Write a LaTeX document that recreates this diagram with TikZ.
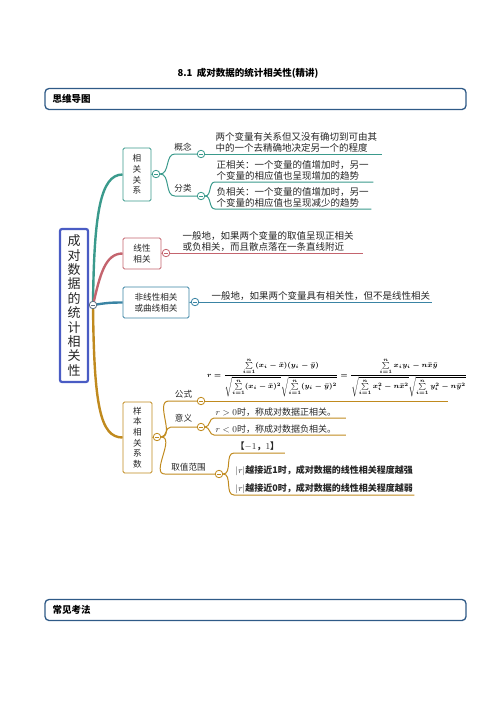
\documentclass[tikz,border=0pt]{standalone}
\usepackage{fontspec}
\usepackage{amsmath}
\setmainfont{Noto Sans CJK SC}
\usetikzlibrary{positioning,backgrounds}

\definecolor{rootblue}{HTML}{4A5CC4}
\definecolor{hdrblue}{HTML}{2F5A87}
\definecolor{hubgray}{HTML}{5F6F80}
\definecolor{tealc}{HTML}{3A9A8C}
\definecolor{rosec}{HTML}{C4646E}
\definecolor{steelc}{HTML}{3A84A4}
\definecolor{goldc}{HTML}{C08A1E}
\definecolor{inkc}{HTML}{262626}

\newsavebox{\fmlbox}

\tikzset{
  hdrbox/.style={draw=hdrblue, line width=1.3pt, rounded corners=4pt,
    minimum width=421pt, minimum height=21pt, inner sep=0pt},
  hdrtext/.style={anchor=west, inner sep=0pt, font=\fontsize{9.5}{11}\selectfont\bfseries},
  rootbox/.style={draw=rootblue, line width=2.2pt, rounded corners=2pt, fill=white,
    align=center, inner sep=0pt, minimum width=28pt, minimum height=153pt,
    text=inkc, font=\fontsize{13}{14.4}\selectfont},
  catbox/.style={draw=#1, line width=0.9pt, rounded corners=1.5pt, fill=white,
    align=center, inner sep=0pt, text=inkc, font=\fontsize{8.6}{10.6}\selectfont},
  knob/.style={circle, draw=#1, fill=white, line width=0.8pt, minimum size=7.5pt,
    inner sep=0pt, path picture={\draw[#1, line width=0.7pt]
      ([xshift=-2pt]path picture bounding box.center) --
      ([xshift=2pt]path picture bounding box.center);}},
  trunk/.style={draw=#1, line width=2.4pt},
  twig/.style={draw=#1, line width=1pt},
  tag/.style={inner sep=0pt, text=inkc, font=\fontsize{8.6}{10}\selectfont},
  leaf/.style={anchor=south west, align=left, inner sep=1.5pt, text=inkc,
    font=\fontsize{9.5}{11}\selectfont},
}

\begin{document}
\sbox{\fmlbox}{\fontsize{6.6}{8}\selectfont\boldmath
  $\displaystyle r=\frac{\sum\limits_{i=1}^{n}(x_i-\bar{x})(y_i-\bar{y})}
  {\sqrt{\sum\limits_{i=1}^{n}(x_i-\bar{x})^2}\sqrt{\sum\limits_{i=1}^{n}(y_i-\bar{y})^2}}
  =\frac{\sum\limits_{i=1}^{n}x_iy_i-n\bar{x}\bar{y}}
  {\sqrt{\sum\limits_{i=1}^{n}x_i^2-n\bar{x}^2}\sqrt{\sum\limits_{i=1}^{n}y_i^2-n\bar{y}^2}}$}%
\begin{tikzpicture}[x=1pt, y=-1pt]
\useasboundingbox (0,0) rectangle (496,702);

% title and headers
\node[font=\fontsize{9.5}{11}\selectfont\bfseries] (title) at (248,73) {8.1\ \ 成对数据的统计相关性(精讲)};
\node[hdrbox] (mapbox) at (255.5,99) {};
\node[hdrtext] (maptext) at ([xshift=8pt]mapbox.west) {思维导图};
\node[hdrbox] (exambox) at (255.5,610) {};
\node[hdrtext] (examtext) at ([xshift=8pt]exambox.west) {常见考法};

% root and main branches
\node[rootbox] (root) at (74,305.5) {成\\对\\数\\据\\的\\统\\计\\相\\关\\性};
\node[knob=hubgray] (hub) at (93,305) {};

\node[catbox=tealc, minimum width=28pt, minimum height=53pt] (corr) at (137,174.5) {相\\关\\关\\系};
\node[catbox=rosec, minimum width=38pt, minimum height=31pt, font=\fontsize{8.6}{11}\selectfont] (linear) at (142,253.5) {线性\\相关};
\node[catbox=steelc, minimum width=66pt, minimum height=31pt, font=\fontsize{8.6}{11}\selectfont] (nonlin) at (156,302.5) {非线性相关\\或曲线相关};
\node[catbox=goldc, minimum width=29pt, minimum height=71pt] (sample) at (137.5,437.5) {样\\本\\相\\关\\系\\数};

\node[knob=tealc] (corrk) at (156,174) {};
\node[knob=rosec] (lineark) at (166,253) {};
\node[knob=steelc] (nonlink) at (195,302) {};
\node[knob=goldc] (samplek) at (157,437) {};

% correlation
\node[knob=tealc] (conk) at (201,154) {};
\node[knob=tealc] (clsk) at (201,196) {};
\node[tag] (conl) at (183,147) {概念};
\node[tag] (clsl) at (183,188) {分类};
\node[leaf] (conleaf) at (214,154) {两个变量有关系但又没有确切到可由其\\中的一个去精确地决定另一个的程度};
\node[leaf] (posleaf) at (215,182) {正相关：一个变量的值增加时，另一\\个变量的相应值也呈现增加的趋势};
\node[leaf] (negleaf) at (215,209) {负相关：一个变量的值增加时，另一\\个变量的相应值也呈现减少的趋势};

% linear / nonlinear
\node[leaf] (linleaf) at (181,253) {一般地，如果两个变量的取值呈现正相关\\或负相关，而且散点落在一条直线附近};
\node[leaf] (nonleaf) at (210,302) {一般地，如果两个变量具有相关性，但不是线性相关};

% sample coefficient
\node[knob=goldc] (fmlk) at (201,401) {};
\node[knob=goldc] (mnk) at (201,427) {};
\node[knob=goldc] (rngk) at (219,474) {};
\node[tag] (fmll) at (183.5,394) {公式};
\node[tag] (mnl) at (183.5,418) {意义};
\node[tag] (rngl) at (188.5,467) {取值范围};
\node[anchor=south, inner sep=1pt] (fml) at (337,398) {\usebox{\fmlbox}};
\coordinate (fmlend) at (448,401);
\node[leaf, font=\fontsize{9}{11}\selectfont] (posr) at (214,418) {$r>0$时，称成对数据正相关。};
\node[leaf, font=\fontsize{9}{11}\selectfont] (negr) at (214,435) {$r<0$时，称成对数据负相关。};
\node[leaf, font=\fontsize{9}{11}\selectfont\bfseries] (rng) at (234,453) {【$-1$，$1$】};
\node[leaf, font=\fontsize{9}{18}\selectfont\bfseries] (strength) at (234,495) {$\vert r\vert$越接近1时，成对数据的线性相关程度越强\\$\vert r\vert$越接近0时，成对数据的线性相关程度越弱};

\begin{scope}[on background layer]
\draw[trunk=tealc] (hub.center) .. controls (94,215) and (100,174.5) .. (corr.west);
\draw[trunk=rosec] (hub.center) .. controls (100,275) and (105,253.5) .. (linear.west);
\draw[trunk=steelc] (hub.center) .. controls (106,303) and (110,302.5) .. (nonlin.west);
\draw[trunk=goldc] (hub.center) .. controls (94,405) and (100,437.5) .. (sample.west);

\draw[twig=tealc] (corr.east) -- (corrk);
\draw[twig=rosec] (linear.east) -- (lineark);
\draw[twig=steelc] (nonlin.east) -- (nonlink);
\draw[twig=goldc] (sample.east) -- (samplek);

\draw[twig=tealc] (corrk.east) to[out=0,in=180] ([xshift=-22pt]conk.west) -- (conk.west);
\draw[twig=tealc] (corrk.east) to[out=0,in=180] ([xshift=-22pt]clsk.west) -- (clsk.west);
\draw[twig=tealc] (conk.east) -- ([xshift=3pt]conleaf.south east);
\draw[twig=tealc] (clsk.east) to[out=0,in=180] (posleaf.south west) -- ([xshift=3pt]posleaf.south east);
\draw[twig=tealc] (clsk.east) to[out=0,in=180] (negleaf.south west) -- ([xshift=1pt]negleaf.south east);

\draw[twig=rosec] (lineark.east) -- ([xshift=8pt]linleaf.south east);
\draw[twig=steelc] (nonlink.east) -- (nonleaf.south east);

\draw[twig=goldc] (samplek.east) to[out=0,in=180] ([xshift=-28pt]fmlk.west) -- (fmlk.west);
\draw[twig=goldc] (samplek.east) to[out=0,in=180] ([xshift=-26pt]mnk.west) -- (mnk.west);
\draw[twig=goldc] (samplek.east) to[out=0,in=180] ([xshift=-50pt]rngk.west) -- (rngk.west);
\draw[twig=goldc] (fmlk.east) -- (fmlend);
\draw[twig=goldc] (mnk.east) to[out=0,in=180] (posr.south west) -- ([xshift=8pt]posr.south east);
\draw[twig=goldc] (mnk.east) to[out=0,in=180] (negr.south west) -- ([xshift=8pt]negr.south east);
\draw[twig=goldc] (rngk.east) to[out=0,in=180] (rng.south west) -- ([xshift=4pt]rng.south east);
\draw[twig=goldc] (rngk.east) to[out=0,in=180] (strength.south west) -- (strength.south east);
\end{scope}
\end{tikzpicture}
\end{document}
